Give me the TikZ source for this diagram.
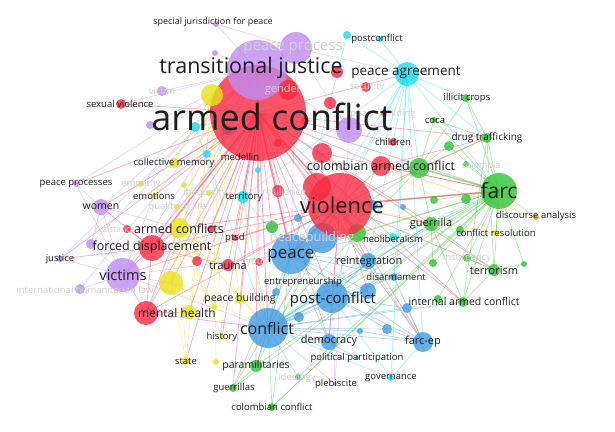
\documentclass[tikz,border=0pt]{standalone}
\usepackage{fontspec}
\setmainfont{Open Sans}
\definecolor{kred}{RGB}{248,42,65}
\definecolor{kgreen}{RGB}{50,195,50}
\definecolor{kblue}{RGB}{65,155,228}
\definecolor{kyellow}{RGB}{235,225,25}
\definecolor{kpurple}{RGB}{192,140,242}
\definecolor{kcyan}{RGB}{25,220,240}
\definecolor{korange}{RGB}{240,160,20}
\definecolor{kgray}{RGB}{190,70,90}
\definecolor{lbl}{RGB}{30,30,30}
\begin{document}
\begin{tikzpicture}[x=1pt, y=-1pt,
    bub/.style={circle, fill=#1, fill opacity=0.8, inner sep=0pt},
    link/.style={draw=#1, draw opacity=0.38, line width=0.7pt},
    strong/.style={draw=#1, draw opacity=0.35, line width=1.8pt},
    kw/.style={font=\fontsize{#1}{#1}\selectfont, text=lbl, inner sep=0pt},
    kwfaint/.style={kw=#1, text=black!18}]
  \fill[white] (0,0) rectangle (615,431);
  \useasboundingbox (0,0) rectangle (615,431);
  % keyword positions
  \coordinate (ac) at (258,113);   \coordinate (tj) at (257,70);
  \coordinate (pp) at (296,48);    \coordinate (sj) at (216,24);
  \coordinate (pu0) at (215,53);   \coordinate (pc) at (380,39);
  \coordinate (pc2) at (347,35);   \coordinate (pa) at (407,74);
  \coordinate (r1) at (337,72);    \coordinate (sec) at (366,87);
  \coordinate (gen) at (288,90);   \coordinate (vic) at (162,91);
  \coordinate (yl1) at (212,95);   \coordinate (sv) at (121,104);
  \coordinate (pu1) at (150,125);  \coordinate (cy1) at (195,127);
  \coordinate (pb) at (384,114);   \coordinate (pu2) at (349,130);
  \coordinate (r2) at (330,103);   \coordinate (r3) at (305,121);
  \coordinate (r4) at (322,153);   \coordinate (r5) at (278,143);
  \coordinate (gr1) at (227,130);  \coordinate (ch) at (393,142);
  \coordinate (g1) at (449,146);   \coordinate (ic) at (466,98);
  \coordinate (co) at (434,120);   \coordinate (dt) at (487,138);
  \coordinate (cac) at (381,166);  \coordinate (g2) at (419,168);
  \coordinate (col) at (466,164);  \coordinate (farc) at (499,191);
  \coordinate (g3) at (434,200);   \coordinate (g4) at (466,199);
  \coordinate (da) at (536,217);   \coordinate (gu) at (431,224);
  \coordinate (cr) at (496,233);   \coordinate (g5) at (460,230);
  \coordinate (neo) at (393,237);  \coordinate (g6) at (357,233);
  \coordinate (ins) at (467,258);  \coordinate (g7) at (433,263);
  \coordinate (g8) at (524,264);   \coordinate (ter) at (494,270);
  \coordinate (rei) at (368,261);  \coordinate (dis) at (394,277);
  \coordinate (b1) at (368,291);   \coordinate (iac) at (463,302);
  \coordinate (g9) at (438,299);   \coordinate (b2) at (407,308);
  \coordinate (post) at (332,297); \coordinate (ent) at (276,292);
  \coordinate (peace) at (291,254);\coordinate (b3) at (322,238);
  \coordinate (b4) at (298,218);   \coordinate (b5) at (373,205);
  \coordinate (b9) at (403,207);   \coordinate (vio) at (340,205);
  \coordinate (r8) at (317,187);   \coordinate (g10) at (272,227);
  \coordinate (terr) at (243,197); \coordinate (med) at (240,157);
  \coordinate (cy2) at (207,154);  \coordinate (cy3) at (258,170);
  \coordinate (cm) at (174,163);   \coordinate (pps) at (76,184);
  \coordinate (emp) at (141,184);  \coordinate (yl2) at (184,185);
  \coordinate (emo) at (154,196);  \coordinate (ineq) at (209,193);
  \coordinate (res) at (278,191);  \coordinate (wom) at (101,207);
  \coordinate (qol) at (177,207);  \coordinate (acs) at (179,228);
  \coordinate (r6) at (211,229);   \coordinate (rst) at (127,229);
  \coordinate (ptsd) at (235,238); \coordinate (fd) at (152,248);
  \coordinate (pu3) at (91,244);   \coordinate (jus) at (60,259);
  \coordinate (r7) at (197,261);   \coordinate (tra) at (228,265);
  \coordinate (you) at (259,262);  \coordinate (vics) at (123,275);
  \coordinate (yl3) at (171,283);  \coordinate (ihl) at (80,289);
  \coordinate (pbl) at (240,299);  \coordinate (yl4) at (214,307);
  \coordinate (mh) at (146,313);   \coordinate (yl5) at (189,312);
  \coordinate (con) at (268,328);  \coordinate (his) at (222,337);
  \coordinate (dem) at (329,342);  \coordinate (b6) at (360,331);
  \coordinate (b7) at (387,329);   \coordinate (b8) at (299,317);
  \coordinate (fep) at (423,342);  \coordinate (ppar) at (357,358);
  \coordinate (sta) at (186,361);  \coordinate (yl6) at (216,362);
  \coordinate (par) at (256,366);  \coordinate (ide) at (298,377);
  \coordinate (ple) at (335,384);  \coordinate (gov) at (391,378);
  \coordinate (gus) at (233,388);  \coordinate (cc) at (272,407);
  % links
  \foreach \s/\c/\ts in {
      ac/kred/{fd,mh,acs,tra,ptsd,vics,wom,cm,peace,con,post,vio,farc,cac,pa,sv,yl3,pbl,his,dem,rei,g6,terr,sta,yl5,gu,dt,ch,res,you,r7,par,emo,pps,jus,r6,b3,fep,ter,iac,g10,gus},
      vio/kred/{farc,peace,con,mh,tra,fd,post,rei,acs,dt,ter,iac,fep,gu,vics,cac,ptsd,dem,b1},
      fd/kred/{vics,wom,mh,acs,jus,tra,rst},
      mh/kred/{vics,acs,yl5,con},
      cac/kred/{farc,g2,dt},
      r4/kred/{farc,peace},
      tj/kpurple/{pp,sj,vics,wom,pps,jus,ihl,fd,pu1,pu3,vic,mh,emp,pu2,acs,peace,pu0,sv,con},
      vics/kpurple/{wom,jus,ihl,pps,pu3,acs,fd,yl3,con,peace,emo},
      pp/kpurple/{pa,peace,pu2,sj},
      ple/kpurple/{post,con,pu2},
      wom/kpurple/{pps,pu3,acs},
      yl1/kyellow/{sta,his,yl5,pbl,acs,cm,emo,yl3,con,yl6},
      acs/kyellow/{sta,his,yl3,pbl,tra,con,yl4},
      yl3/kyellow/{pbl,sta,con},
      cr/kyellow/{farc,g5,vio,cac},
      pbl/kyellow/{con,peace},
      farc/kgreen/{gu,ter,iac,dt,ic,co,g2,g1,g3,g4,g5,ins,g7,g8,vio,peace,con,post,par,gus,cc,g6,rei,g9,col,cr},
      gu/kgreen/{ter,iac,g7,con,peace,g2},
      g2/kgreen/{ic,co,dt,con,peace,g1},
      par/kgreen/{con,gus,peace,vio},
      gus/kgreen/{con,peace},
      cc/kgreen/{con,g5,peace},
      ide/kgreen/{farc,con},
      dt/kgreen/{ic,co,ter,iac},
      ter/kgreen/{g8,ins,iac},
      pa/kcyan/{pc2,pc,peace,post,con,farc,fep,vio,gov,terr,ic,dt,rei,dis,g2},
      terr/kcyan/{con,peace,ac},
      neo/kcyan/{post,farc,con},
      gov/kcyan/{post,fep,con},
      pc2/kcyan/{peace},
      cy1/kcyan/{ac,con},
      con/kblue/{post,peace,dem,fep,rei,dis,b1,b2,b6,b7,b8,iac,gu,ppar,ent},
      peace/kblue/{post,rei,dis,fep,dem,b1,b3},
      post/kblue/{rei,dis,b1,b2,fep,dem,b7},
      fep/kblue/{b7,b2,dis,rei,b6},
      dem/kblue/{ppar},
      da/korange/{farc,cac}}
    \foreach \t in \ts
      \draw[link=\c] (\s) -- (\t);
  \foreach \s/\t/\c in {ac/vio/kred, ac/fd/kred, ac/peace/kred, ac/tj/kred,
      vio/farc/kred, vio/peace/kred, farc/g2/kgreen, con/post/kblue}
    \draw[strong=\c] (\s) -- (\t);
  % bubbles
  \foreach \n/\r/\c in {
      ac/48/kred, tj/30/kpurple, pp/16/kpurple, sj/3/kpurple, pu0/3/kpurple,
      pc/3/kcyan, pc2/4/kcyan, pa/12/kcyan, r1/6/kred, sec/5/kred, gen/10/kred,
      vic/5/kpurple, yl1/11/kyellow, sv/5/kred, pu1/4/kpurple, cy1/5/kcyan,
      pb/3/kred, pu2/13/kpurple, r2/6/kred, r3/4/kred, r4/10/kred, r5/4/kred,
      gr1/5/kgray, ch/4/kred, g1/5/kgreen, ic/4/kgreen, co/3/kgreen,
      dt/5/kgreen, cac/10/kred, g2/10/kgreen, col/3/kgreen, farc/18/kgreen,
      g3/4/kgreen, g4/5/kgreen, da/3/korange, gu/7/kgreen, cr/3/kyellow,
      g5/4/kgreen, neo/4/kcyan, g6/9/kgreen, ins/4/kgreen, g7/4/kgreen,
      g8/3/kgreen, ter/6/kgreen, rei/8/kblue, dis/4/kblue, b1/8/kblue,
      iac/5/kgreen, g9/4/kgreen, b2/5/kblue, post/16/kblue, ent/4/kblue,
      peace/20/kblue, b3/15/kblue, b4/4/kblue, b5/5/kblue, b9/3/kblue,
      vio/32/kred, r8/14/kred, g10/6/kgreen, terr/6/kcyan, med/2/kred,
      cy2/4/kcyan, cy3/3/kcyan, cm/5/kyellow, pps/3/kpurple, emp/3/kyellow,
      yl2/3/kyellow, emo/3/kyellow, ineq/3/kyellow, res/6/kred, wom/8/kpurple,
      qol/3/kyellow, acs/10/kyellow, r6/4/kred, rst/4/kred, ptsd/3/kred,
      fd/13/kred, pu3/5/kpurple, jus/3/kpurple, r7/5/kred, tra/6/kred,
      you/4/kred, vics/17/kpurple, yl3/12/kyellow, ihl/5/kpurple,
      pbl/5/kyellow, yl4/3/kyellow, mh/12/kred, yl5/7/kyellow, con/20/kblue,
      his/3/kyellow, dem/8/kblue, b6/3/kblue, b7/5/kblue, b8/5/kblue,
      fep/10/kblue, ppar/2/kblue, sta/4/kyellow, yl6/3/kyellow, par/6/kgreen,
      ide/3/kgreen, ple/2/kpurple, gov/3/kcyan, gus/4/kgreen, cc/4/kgreen}
    \node[bub=\c, minimum size=2*\r] (\n-dot) at (\n) {};
  % labels
  \node[kwfaint=15] (pp-t) at (293,48) {peace process};
  \node[kwfaint=11] (gen-t) at (283,90) {gender};
  \node[kwfaint=9.5] (sec-t) at (367,87) {security};
  \node[kwfaint=9.5] (vic-t) at (162,91) {victim};
  \node[kwfaint=9.5] (pb-t) at (383,114) {peace-building};
  \node[kwfaint=9] (col-t) at (481,165) {colombia};
  \node[kwfaint=9.5] (ins-t) at (467,258) {insurgency};
  \node[kwfaint=13] (b3-t) at (312,238) {peacebuilding};
  \node[kwfaint=9.5] (emp-t) at (141,184) {empathy};
  \node[kwfaint=9.5] (ineq-t) at (205,193) {inequality};
  \node[kwfaint=10] (res-t) at (284,192) {resilience};
  \node[kwfaint=9.5] (qol-t) at (177,207) {quality of life};
  \node[kwfaint=8.5] (rst-t) at (115,229) {resistance};
  \node[kwfaint=9.5] (you-t) at (259,262) {youth};
  \node[kwfaint=9.5] (ihl-t) at (85,290) {international humanitarian law};
  \node[kwfaint=9.5] (ide-t) at (297,378) {ideology};
  \node[kw=36] (ac-t) at (272,117) {armed conflict};
  \node[kw=21.5] (tj-t) at (251,68) {transitional justice};
  \node[kw=9] (sj-t) at (213,22) {special jurisdiction for peace};
  \node[kw=9.5] (pc-t) at (377,39) {postconflict};
  \node[kw=13.5] (pa-t) at (406,73) {peace agreement};
  \node[kw=9.5] (sv-t) at (120,104) {sexual violence};
  \node[kw=9.5] (ch-t) at (393,142) {children};
  \node[kw=9.5] (ic-t) at (467,98) {illicit crops};
  \node[kw=9.5] (co-t) at (435,121) {coca};
  \node[kw=10] (dt-t) at (487,138) {drug trafficking};
  \node[kw=12.5] (cac-t) at (381,166) {colombian armed conflict};
  \node[kw=21] (farc-t) at (499,191) {farc};
  \node[kw=9.5] (da-t) at (536,216) {discourse analysis};
  \node[kw=11] (gu-t) at (431,224) {guerrilla};
  \node[kw=9.5] (cr-t) at (496,233) {conflict resolution};
  \node[kw=9.5] (neo-t) at (393,239) {neoliberalism};
  \node[kw=11] (ter-t) at (494,271) {terrorism};
  \node[kw=11] (rei-t) at (369,262) {reintegration};
  \node[kw=9.5] (dis-t) at (396,277) {disarmament};
  \node[kw=10.5] (iac-t) at (464,302) {internal armed conflict};
  \node[kw=15] (post-t) at (333,300) {post-conflict};
  \node[kw=9.5] (ent-t) at (303,282) {entrepreneurship};
  \node[kw=17] (peace-t) at (291,256) {peace};
  \node[kw=22] (vio-t) at (342,205) {violence};
  \node[kw=9.5] (terr-t) at (244,197) {territory};
  \node[kw=9.5] (med-t) at (240,157) {medellin};
  \node[kw=9.5] (cm-t) at (174,163) {collective memory};
  \node[kw=9.5] (pps-t) at (76,184) {peace processes};
  \node[kw=9.5] (emo-t) at (154,196) {emotions};
  \node[kw=10.5] (wom-t) at (101,207) {women};
  \node[kw=12.5] (acs-t) at (179,229) {armed conflicts};
  \node[kw=9.5] (ptsd-t) at (235,238) {ptsd};
  \node[kw=12.5] (fd-t) at (152,247) {forced displacement};
  \node[kw=9.5] (jus-t) at (60,259) {justice};
  \node[kw=11] (tra-t) at (228,266) {trauma};
  \node[kw=14.5] (vics-t) at (123,275) {victims};
  \node[kw=10.5] (pbl-t) at (240,299) {peace building};
  \node[kw=12] (mh-t) at (177,313) {mental health};
  \node[kw=16] (con-t) at (267,328) {conflict};
  \node[kw=9.5] (his-t) at (222,337) {history};
  \node[kw=11] (dem-t) at (329,341) {democracy};
  \node[kw=11] (fep-t) at (423,342) {farc-ep};
  \node[kw=9.5] (ppar-t) at (357,358) {political participation};
  \node[kw=9.5] (sta-t) at (186,361) {state};
  \node[kw=10.5] (par-t) at (256,366) {paramilitaries};
  \node[kw=9.5] (ple-t) at (336,384) {plebiscite};
  \node[kw=9.5] (gov-t) at (391,378) {governance};
  \node[kw=9.5] (gus-t) at (234,388) {guerrillas};
  \node[kw=9.5] (cc-t) at (272,407) {colombian conflict};
\end{tikzpicture}
\end{document}
